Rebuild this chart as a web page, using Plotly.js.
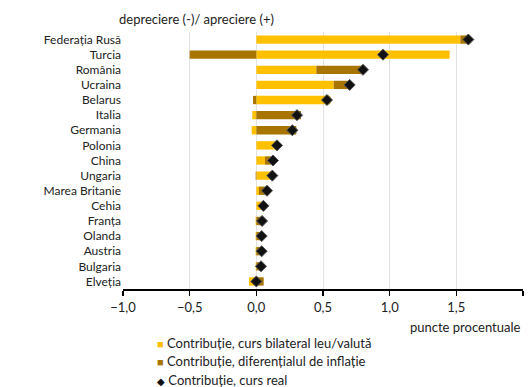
<!DOCTYPE html>
<html><head><meta charset="utf-8">
<script src="https://cdn.plot.ly/plotly-3.0.1.min.js"></script>
<style>body{margin:0;background:#fff}#c{width:531px;height:387px}</style>
</head><body><div id="c"></div>
<script>
const countries = ["Federația Rusă","Turcia","România","Ucraina","Belarus","Italia","Germania","Polonia","China","Ungaria","Marea Britanie","Cehia","Franța","Olanda","Austria","Bulgaria","Elveția"];
const bilateral = [1.53, 1.45, 0.45, 0.58, 0.555, -0.03, -0.035, 0.15, 0.065, 0.135, 0.02, 0.05, -0.005, -0.005, -0.005, -0.005, -0.055];
const inflatie  = [0.07, -0.50, 0.35, 0.12, -0.025, 0.335, 0.30, 0.005, 0.07, -0.005, 0.075, 0.005, 0.045, 0.04, 0.045, 0.04, 0.055];
const real      = [1.59, 0.95, 0.80, 0.70, 0.53, 0.305, 0.27, 0.155, 0.125, 0.12, 0.08, 0.053, 0.043, 0.04, 0.04, 0.035, 0.0];
const xTicks = [-1, -0.5, 0, 0.5, 1, 1.5, 2];
const names = ["Contribuție, curs bilateral leu/valută","Contribuție, diferențialul de inflație","Contribuție, curs real"];
const colors = ['#FFC000', '#A87600', '#111'];

const F = "Lato, 'Open Sans', sans-serif";
const FS = 13;
const data = [
  {type:'bar', orientation:'h', y:countries, x:bilateral, name:names[0], marker:{color:colors[0]}, width:0.55},
  {type:'bar', orientation:'h', y:countries, x:inflatie, name:names[1], marker:{color:colors[1]}, width:0.55},
  {type:'scatter', mode:'markers', y:countries, x:real, name:names[2], marker:{symbol:'diamond', size:8.5, color:colors[2], line:{color:'#555', width:1}}}
];
const W = 531, H = 387, L = 123, R = 8, T = 32, B = 98;
const px = x => (x - L) / (W - L - R);
const py = y => (H - B - y) / (H - T - B);
const legendAnn = names.map((n, i) => ({
  text: '<span style="color:' + colors[i] + ';font-size:' + (i < 2 ? 11 : 10) + 'px">' + (i < 2 ? '■' : '◆') + '</span> ' + n,
  xref:'paper', yref:'paper', x:px(155), xanchor:'left', y:py(343 + i*18.5), yanchor:'middle',
  showarrow:false, font:{family:F, size:FS, color:'#222'}
}));
const layout = {
  width:W, height:H,
  margin:{l:L, r:R, t:T, b:B},
  barmode:'relative',
  separators:',.',
  font:{family:F, size:FS, color:'#222'},
  paper_bgcolor:'#fff', plot_bgcolor:'#fff',
  xaxis:{range:[-1,2], tickvals:xTicks, tickformat:'.1f', showgrid:true, gridcolor:'#e3e3e3', gridwidth:1, zeroline:false,
         showline:true, linecolor:'#000', linewidth:2, ticks:'outside', ticklen:5, tickcolor:'#000', tickwidth:1.5,
         tickangle:0, automargin:false, tickfont:{family:F, size:FS, color:'#222'}, fixedrange:true},
  yaxis:{range:[countries.length - 0.5, -0.5], autorange:false, showgrid:false, zeroline:false, showline:false, ticks:'', ticklabelstandoff:1,
         automargin:false, tickmode:'array', tickvals:countries, ticktext:countries,
         tickfont:{family:F, size:12, color:'#222'}, fixedrange:true},
  showlegend:false,
  annotations:[
    {text:'depreciere (-)/ apreciere (+)', xref:'paper', yref:'paper', x:px(117), xanchor:'left', y:py(19), yanchor:'middle', showarrow:false, font:{family:F, size:FS, color:'#222'}},
    {text:'puncte procentuale', xref:'paper', yref:'paper', x:px(522), xanchor:'right', y:py(327), yanchor:'middle', showarrow:false, font:{family:F, size:FS, color:'#222'}}
  ].concat(legendAnn)
};
Plotly.newPlot('c', data, layout, {displayModeBar:false, staticPlot:true});
</script></body></html>
